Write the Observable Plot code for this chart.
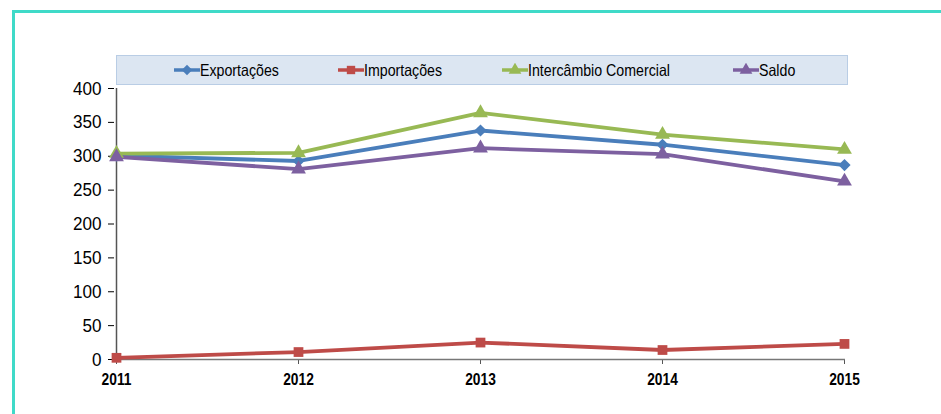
<!DOCTYPE html>
<html>
<head>
<meta charset="utf-8">
<script src="https://cdn.jsdelivr.net/npm/d3@7"></script>
<script src="https://cdn.jsdelivr.net/npm/@observablehq/plot@0.6"></script>
<style>
  body { margin: 0; background: #fff; }
  #wrap { position: relative; width: 941px; height: 414px; overflow: hidden; background: #fff; }
  #frame { position: absolute; left: 12px; top: 10px; width: 960px; height: 420px;
           border-left: 3px solid #3fdac8; border-top: 3px solid #3fdac8; box-sizing: border-box; }
  #legend { position: absolute; left: 116px; top: 55px; width: 732px; height: 30px;
            background: #dce6f2; border: 1px solid #b9cde5; box-sizing: border-box; }
  .item { position: absolute; top: 0; height: 28px; display: flex; align-items: center;
          font-family: "Liberation Sans", Arial, sans-serif;
          font-size: 16.5px; color: #000; white-space: nowrap; }
  .item svg { display: block; }
  .item span { display: inline-block; transform: scaleX(0.86); transform-origin: left center; }
  #chart { position: absolute; left: 0; top: 80px; }
</style>
</head>
<body>
<div id="wrap">
  <div id="frame"></div>
  <div id="legend"></div>
  <div id="chart"></div>
</div>
<script>
const years = ["2011", "2012", "2013", "2014", "2015"];
const exportacoes = [301, 293, 338, 317, 287];
const importacoes = [2.5, 11, 25, 14, 23];
const intercambio = [304, 305, 364, 332, 310];
const saldo = [299, 281, 312, 303, 263];
const seriesNames = ["Exportações", "Importações", "Intercâmbio Comercial", "Saldo"];
const seriesColors = ["#4a7ebb", "#be4b48", "#98b954", "#7d60a0"];
const seriesSymbols = ["diamond2", "square", "triangle", "triangle"];
const yTicks = [0, 50, 100, 150, 200, 250, 300, 350, 400];

const seriesValues = [exportacoes, importacoes, intercambio, saldo];
const data = [];
seriesNames.forEach((s, i) => years.forEach((y, j) => data.push({series: s, year: y, value: seriesValues[i][j]})));

const colorScale = {domain: seriesNames, range: seriesColors};
const symbolScale = {domain: seriesNames, range: seriesSymbols};
const font = '"Liberation Sans", Arial, sans-serif';

const chart = Plot.plot({
  width: 941,
  height: 334,
  marginLeft: 114,
  marginRight: 96,
  marginTop: 8,
  marginBottom: 55,
  style: {fontFamily: font, background: "transparent", overflow: "visible"},
  x: {type: "point", domain: years, padding: 0},
  y: {domain: [0, 400]},
  color: colorScale,
  symbol: symbolScale,
  marks: [
    Plot.axisY({ticks: yTicks, tickSize: 6, tickPadding: 7, fontSize: 19, stroke: "#000", label: null, tickFormat: d => d}),
    Plot.axisX({tickSize: 5, tickPadding: 9, fontSize: 16, fontWeight: "bold", stroke: "#555", label: null}),
    Plot.ruleX([years[0]], {y1: 0, y2: 400, stroke: "#555", strokeWidth: 1.5}),
    Plot.ruleY([0], {stroke: "#777", strokeWidth: 1.5}),
    Plot.line(data, {x: "year", y: "value", z: "series", stroke: "series", strokeWidth: 3.8}),
    Plot.dot(data, {x: "year", y: "value", fill: "series", symbol: "series", r: 5.5, stroke: null})
  ]
});
document.getElementById("chart").appendChild(chart);

// condense tick labels slightly (reference uses a narrower face)
d3.select(chart).selectAll('g[aria-label="x-axis tick label"] text').each(function() {
  const w = this.getComputedTextLength();
  this.setAttribute("textLength", (w * 0.86).toFixed(1));
  this.setAttribute("lengthAdjust", "spacingAndGlyphs");
});
d3.select(chart).selectAll('g[aria-label="y-axis tick label"] text').each(function() {
  const w = this.getComputedTextLength();
  this.setAttribute("textLength", (w * 0.9).toFixed(1));
  this.setAttribute("lengthAdjust", "spacingAndGlyphs");
});

// legend
const legendLeft = [174, 338, 502, 733];
const legend = document.getElementById("legend");
const symMap = {diamond2: d3.symbolDiamond2, square: d3.symbolSquare, triangle: d3.symbolTriangle};
seriesNames.forEach((s, i) => {
  const div = document.createElement("div");
  div.className = "item";
  div.style.left = (legendLeft[i] - 117) + "px";
  const sw = d3.create("svg").attr("width", 26).attr("height", 14);
  sw.append("line").attr("x1", 0).attr("x2", 26).attr("y1", 7).attr("y2", 7)
    .attr("stroke", seriesColors[i]).attr("stroke-width", 3.5);
  sw.append("path").attr("transform", "translate(13,7)")
    .attr("d", d3.symbol(symMap[seriesSymbols[i]], 70)())
    .attr("fill", seriesColors[i]);
  div.appendChild(sw.node());
  const t = document.createElement("span");
  t.textContent = s;
  div.appendChild(t);
  legend.appendChild(div);
});
</script>
</body>
</html>
